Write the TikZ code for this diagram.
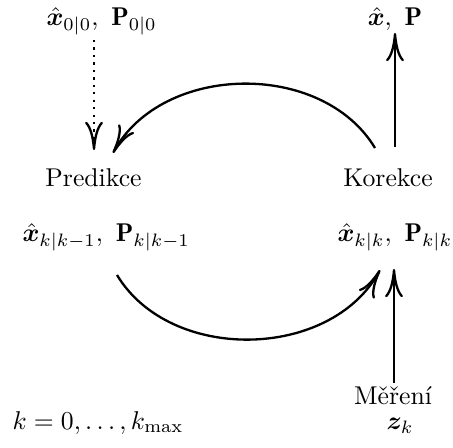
\documentclass[tikz,border=0pt]{standalone}
\usepackage{amsmath,bm}
\usepackage{fontspec}
\usetikzlibrary{arrows.meta}
\tikzset{
  lbl/.style={inner sep=0pt, anchor=base},
  arr/.style={line width=0.9pt, -{Computer Modern Rightarrow[length=11pt,width=7pt,line width=0.9pt]}},
  dotarr/.style={arr, dash pattern=on 0.9pt off 2pt},
}
\begin{document}
\begin{tikzpicture}[x=0.389pt,y=-0.389pt]
\useasboundingbox (0,0) rectangle (453,448);
% texts
\node[lbl, anchor=base west] (init) at (46,26) {$\bm{\hat{x}}_{0|0},\ \mathbf{P}_{0|0}$};
\node[lbl] (out) at (395,26) {$\bm{\hat{x}},\ \mathbf{P}$};
\node[lbl] (pred) at (93.5,187) {Predikce};
\node[lbl] (kor) at (388,187) {Korekce};
\node[lbl, anchor=base west] (estp) at (22,242) {$\bm{\hat{x}}_{k|k-1},\ \mathbf{P}_{k|k-1}$};
\node[lbl, anchor=base west] (estk) at (337,242) {$\bm{\hat{x}}_{k|k},\ \mathbf{P}_{k|k}$};
\node[lbl] (mer) at (393,405) {Měření};
\node[lbl] (zk) at (400,430) {$\bm{z}_k$};
\node[lbl, anchor=base west] (krange) at (12,429) {$k=0,\ldots,k_{\max}$};
% connector ends
\coordinate (initS) at (94,40);
\coordinate (initE) at (94,150);
\coordinate (outS) at (395,147);
\coordinate (outE) at (395,33);
\coordinate (topS) at (375,148);
\coordinate (topE) at (113,153);
\coordinate (botS) at (117,275);
\coordinate (botE) at (380,270);
\coordinate (merS) at (394,383);
\coordinate (merE) at (394,269);
% connectors
\draw[dotarr] (initS) -- (initE);
\draw[arr] (outS) -- (outE);
\draw[arr] (topS) to[bend right=60] (topE);
\draw[arr] (botS) to[bend right=60] (botE);
\draw[arr] (merS) -- (merE);
\end{tikzpicture}
\end{document}
